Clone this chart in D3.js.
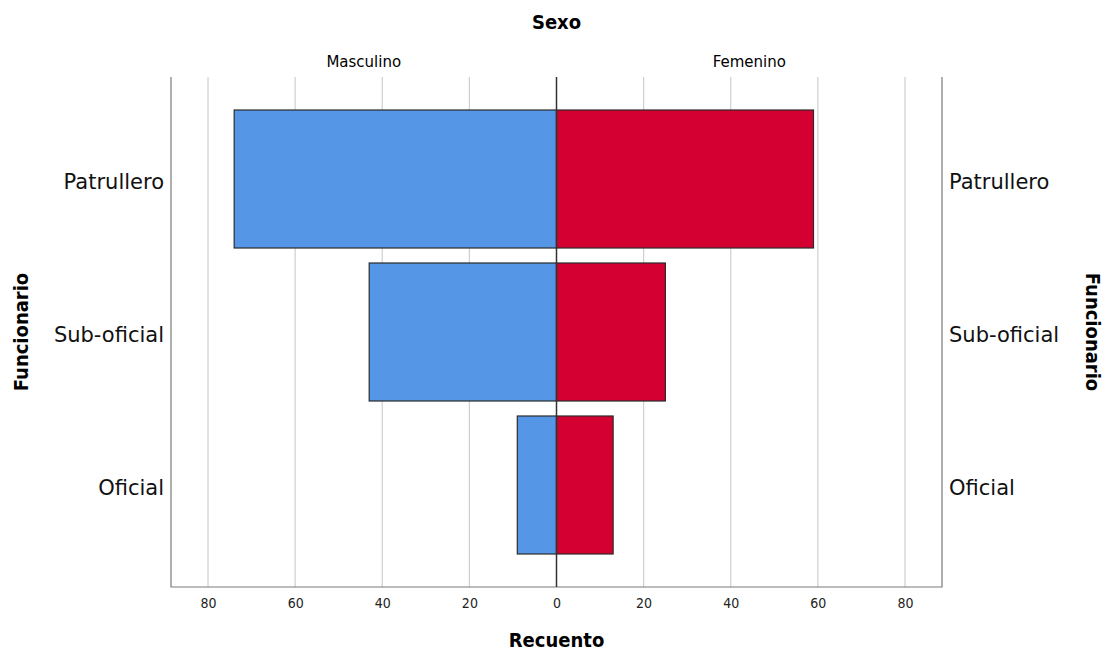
<!DOCTYPE html>
<html><head><meta charset="utf-8">
<script src="https://cdn.jsdelivr.net/npm/d3@7"></script>
<style>body{margin:0;background:#fff}</style>
</head><body><svg id="c" width="1113" height="651"></svg>
<script>
const categories = ["Patrullero", "Sub-oficial", "Oficial"];
const masculino = [74, 43, 9];
const femenino = [59, 25, 13];
const tickValues = [0, 20, 40, 60, 80];
const sexLabels = ["Masculino", "Femenino"];

(function () {
const svg = d3.select("#c");
const pLeft = 171, pRight = 942, center = 556.5, pTop = 77, pBottom = 587;
const xL = d3.scaleLinear().domain([0, 88.5]).range([center, pLeft]);
const xR = d3.scaleLinear().domain([0, 88.5]).range([center, pRight]);
const y = d3.scaleBand().domain(categories).range([110, 554]).paddingInner(0.098).paddingOuter(0);

const font = "'DejaVu Sans Condensed', 'DejaVu Sans', sans-serif";
const fontW = "'DejaVu Sans', sans-serif";

// gridlines
const g = svg.append("g");
[xL, xR].forEach(s => {
  tickValues.filter(v => v > 0).forEach(v => {
    g.append("line").attr("x1", s(v)).attr("x2", s(v)).attr("y1", pTop).attr("y2", pBottom)
      .attr("stroke", "#cfcfcf").attr("stroke-width", 1.2);
  });
});

// bars
svg.append("g").selectAll("rect").data(categories).join("rect")
  .attr("x", (d, i) => xL(masculino[i])).attr("width", (d, i) => center - xL(masculino[i]))
  .attr("y", d => y(d)).attr("height", y.bandwidth())
  .attr("fill", "#5596E6").attr("stroke", "#2b2b2b").attr("stroke-width", 1.2);
svg.append("g").selectAll("rect").data(categories).join("rect")
  .attr("x", center).attr("width", (d, i) => xR(femenino[i]) - center)
  .attr("y", d => y(d)).attr("height", y.bandwidth())
  .attr("fill", "#D50032").attr("stroke", "#2b2b2b").attr("stroke-width", 1.2);

// frame
svg.append("path").attr("d", `M${pLeft},${pTop}V${pBottom}H${pRight}V${pTop}`)
  .attr("fill", "none").attr("stroke", "#7a7a7a").attr("stroke-width", 1.2);
svg.append("line").attr("x1", center).attr("x2", center).attr("y1", pTop).attr("y2", pBottom)
  .attr("stroke", "#333").attr("stroke-width", 1.5);

// x axes
const axL = d3.axisBottom(xL).tickValues(tickValues).tickSize(0).tickPadding(11).tickFormat(d3.format("d"));
const axR = d3.axisBottom(xR).tickValues(tickValues.filter(v => v > 0)).tickSize(0).tickPadding(11).tickFormat(d3.format("d"));
[axL, axR].forEach(ax => {
  const a = svg.append("g").attr("transform", `translate(0,${pBottom})`).call(ax);
  a.select(".domain").remove();
  a.selectAll("text").attr("font-family", font).attr("font-size", 14).attr("fill", "#222");
});

// category labels
svg.append("g").selectAll("text").data(categories).join("text")
  .attr("x", 164).attr("y", d => y(d) + y.bandwidth() / 2 + 3).attr("dy", "0.35em")
  .attr("text-anchor", "end").attr("font-family", fontW).attr("font-size", 21).attr("fill", "#111").text(d => d);
svg.append("g").selectAll("text").data(categories).join("text")
  .attr("x", 949).attr("y", d => y(d) + y.bandwidth() / 2 + 3).attr("dy", "0.35em")
  .attr("text-anchor", "start").attr("font-family", fontW).attr("font-size", 21).attr("fill", "#111").text(d => d);

// titles
svg.append("text").attr("x", center).attr("y", 29).attr("text-anchor", "middle")
  .attr("font-family", font).attr("font-weight", "bold").attr("font-size", 20).text("Sexo");
svg.append("text").attr("x", (pLeft + center) / 2).attr("y", 67).attr("text-anchor", "middle")
  .attr("font-family", fontW).attr("font-size", 15).text(sexLabels[0]);
svg.append("text").attr("x", (center + pRight) / 2).attr("y", 67).attr("text-anchor", "middle")
  .attr("font-family", fontW).attr("font-size", 15).text(sexLabels[1]);
svg.append("text").attr("x", center).attr("y", 647).attr("text-anchor", "middle")
  .attr("font-family", font).attr("font-weight", "bold").attr("font-size", 20).text("Recuento");
svg.append("text").attr("transform", "translate(28,332) rotate(-90)").attr("text-anchor", "middle")
  .attr("font-family", font).attr("font-weight", "bold").attr("font-size", 20).text("Funcionario");
svg.append("text").attr("transform", "translate(1086,332) rotate(90)").attr("text-anchor", "middle")
  .attr("font-family", font).attr("font-weight", "bold").attr("font-size", 20).text("Funcionario");
})();
</script></body></html>
